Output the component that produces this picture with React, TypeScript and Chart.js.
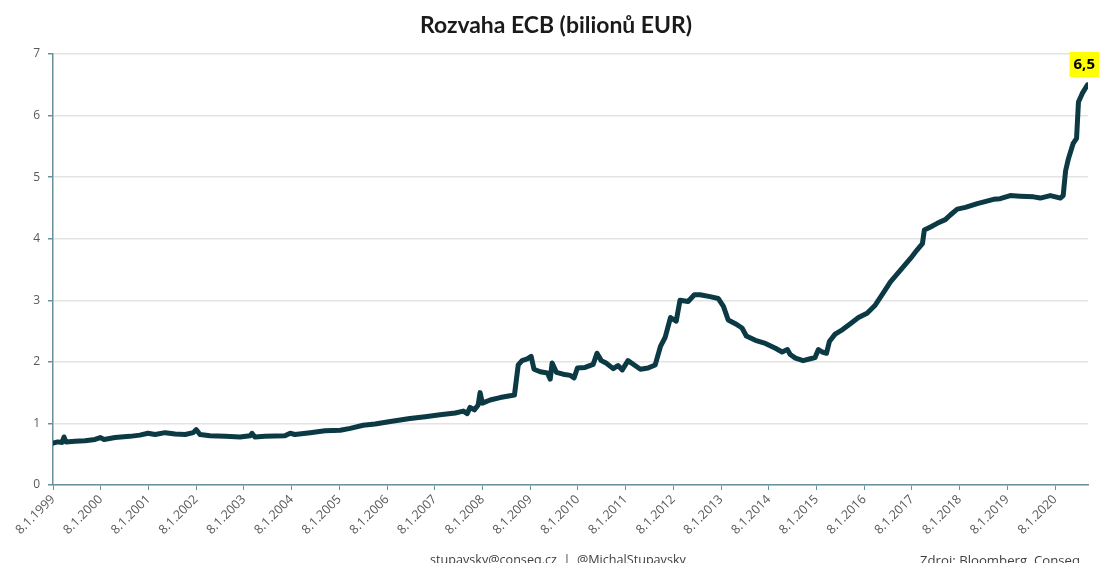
import React, { useEffect, useRef } from 'react';
import { Chart, registerables } from 'chart.js';

Chart.register(...registerables);

const TITLE = 'Rozvaha ECB (bilionů EUR)';
const FOOTER_LEFT = 'stupavsky@conseq.cz  |  @MichalStupavsky';
const FOOTER_RIGHT = 'Zdroj: Bloomberg, Conseq';
const LAST_LABEL = '6,5';

const YEAR_TICKS = [1999, 2000, 2001, 2002, 2003, 2004, 2005, 2006, 2007, 2008, 2009, 2010, 2011, 2012, 2013, 2014, 2015, 2016, 2017, 2018, 2019, 2020];
const Y_TICKS = [0, 1, 2, 3, 4, 5, 6, 7];

const DATES = [
  1999.00, 1999.10, 1999.19, 1999.23, 1999.27, 1999.46, 1999.67, 1999.88, 1999.99, 2000.07,
  2000.30, 2000.61, 2000.82, 2000.99, 2001.14, 2001.35, 2001.56, 2001.77, 2001.94, 2002.00,
  2002.08, 2002.29, 2002.61, 2002.92, 2003.13, 2003.17, 2003.23, 2003.44, 2003.86, 2003.97,
  2004.07, 2004.39, 2004.70, 2005.02, 2005.23, 2005.50, 2005.75, 2006.07, 2006.48, 2006.80,
  2007.11, 2007.43, 2007.60, 2007.68, 2007.74, 2007.83, 2007.91, 2007.95, 2008.00, 2008.16,
  2008.37, 2008.58, 2008.67, 2008.75, 2008.83, 2008.94, 2009.02, 2009.08, 2009.21, 2009.36,
  2009.42, 2009.46, 2009.55, 2009.69, 2009.84, 2009.92, 2009.99, 2010.15, 2010.32, 2010.40,
  2010.49, 2010.59, 2010.74, 2010.84, 2010.93, 2011.05, 2011.16, 2011.31, 2011.47, 2011.62,
  2011.73, 2011.83, 2011.94, 2012.06, 2012.14, 2012.31, 2012.44, 2012.56, 2012.77, 2012.94,
  2013.05, 2013.15, 2013.30, 2013.44, 2013.53, 2013.72, 2013.93, 2014.14, 2014.28, 2014.39,
  2014.45, 2014.56, 2014.72, 2014.87, 2014.97, 2015.04, 2015.12, 2015.21, 2015.27, 2015.39,
  2015.54, 2015.71, 2015.88, 2016.06, 2016.23, 2016.40, 2016.55, 2016.76, 2016.97, 2017.11,
  2017.22, 2017.26, 2017.39, 2017.53, 2017.70, 2017.81, 2017.95, 2018.12, 2018.37, 2018.71,
  2018.85, 2019.06, 2019.27, 2019.55, 2019.69, 2019.90, 2020.01, 2020.11, 2020.17, 2020.22,
  2020.28, 2020.38, 2020.45, 2020.49, 2020.57, 2020.68,
];

const VALUES = [
  0.68, 0.70, 0.69, 0.78, 0.70, 0.71, 0.72, 0.74, 0.77, 0.74,
  0.77, 0.79, 0.81, 0.84, 0.82, 0.85, 0.83, 0.82, 0.85, 0.90,
  0.82, 0.80, 0.79, 0.78, 0.80, 0.84, 0.78, 0.79, 0.80, 0.84,
  0.82, 0.85, 0.88, 0.89, 0.92, 0.97, 0.99, 1.03, 1.08, 1.11,
  1.14, 1.17, 1.20, 1.16, 1.26, 1.22, 1.30, 1.50, 1.33, 1.38,
  1.42, 1.45, 1.46, 1.95, 2.02, 2.05, 2.09, 1.88, 1.84, 1.82,
  1.72, 1.98, 1.83, 1.80, 1.78, 1.74, 1.90, 1.91, 1.96, 2.14,
  2.02, 1.98, 1.89, 1.94, 1.87, 2.02, 1.96, 1.88, 1.90, 1.95,
  2.25, 2.40, 2.72, 2.66, 3.00, 2.98, 3.09, 3.09, 3.06, 3.03,
  2.90, 2.68, 2.62, 2.55, 2.42, 2.35, 2.30, 2.22, 2.16, 2.20,
  2.12, 2.06, 2.02, 2.05, 2.07, 2.20, 2.16, 2.14, 2.33, 2.45,
  2.52, 2.62, 2.72, 2.79, 2.92, 3.12, 3.30, 3.49, 3.68, 3.82,
  3.92, 4.14, 4.19, 4.25, 4.31, 4.39, 4.48, 4.51, 4.57, 4.64,
  4.65, 4.70, 4.69, 4.68, 4.66, 4.70, 4.68, 4.66, 4.70, 5.10,
  5.30, 5.55, 5.63, 6.22, 6.36, 6.50,
];

const LINE_COLOR = '#0b3a44';
const AXIS_COLOR = '#6a909c';
const GRID_COLOR = '#e3e3e3';
const TEXT_COLOR = '#595959';

function fitFont(ctx: CanvasRenderingContext2D, text: string, weight: string, family: string, target: number) {
  ctx.font = `${weight} 20px ${family}`;
  const w = ctx.measureText(text).width;
  const size = (20 * target) / w;
  ctx.font = `${weight} ${size.toFixed(2)}px ${family}`;
}

const decorPlugin = {
  id: 'decor',
  afterDraw(chart: any) {
    const { ctx, chartArea } = chart;
    ctx.save();
    // title
    ctx.fillStyle = '#1a1a1a';
    fitFont(ctx, TITLE, 'bold', 'Lato, "Open Sans", sans-serif', 272);
    ctx.textAlign = 'left';
    ctx.textBaseline = 'alphabetic';
    ctx.fillText(TITLE, 420, 33);

    // footer
    ctx.fillStyle = '#404040';
    ctx.textBaseline = 'alphabetic';
    ctx.textAlign = 'left';
    fitFont(ctx, FOOTER_LEFT, 'normal', '"Open Sans", sans-serif', 256);
    ctx.fillText(FOOTER_LEFT, 430, 564);
    fitFont(ctx, FOOTER_RIGHT, 'normal', '"Open Sans", sans-serif', 160);
    ctx.fillText(FOOTER_RIGHT, 920, 565);

    // last value label
    const meta = chart.getDatasetMeta(0);
    const last = meta.data[meta.data.length - 1];
    if (last) {
      ctx.font = 'bold 15px "Open Sans", sans-serif';
      const w = ctx.measureText(LAST_LABEL).width;
      const bx = last.x - 18;
      const by = chartArea.top - 2;
      ctx.fillStyle = '#ffff00';
      ctx.fillRect(bx, by, w + 8, 25);
      ctx.fillStyle = '#000000';
      ctx.textAlign = 'left';
      ctx.textBaseline = 'middle';
      ctx.fillText(LAST_LABEL, bx + 4, by + 13);
    }
    ctx.restore();
  },
};

export default function App() {
  const canvasRef = useRef<HTMLCanvasElement | null>(null);

  useEffect(() => {
    const canvas = canvasRef.current;
    if (!canvas) return;
    const points = DATES.map((d, i) => ({ x: d, y: VALUES[i] }));
    const chart = new Chart(canvas, {
      type: 'line',
      data: {
        datasets: [
          {
            data: points,
            borderColor: LINE_COLOR,
            borderWidth: 5,
            pointRadius: 0,
            tension: 0,
            borderJoinStyle: 'round',
            borderCapStyle: 'round',
            fill: false,
          },
        ],
      },
      options: {
        animation: false,
        responsive: false,
        maintainAspectRatio: false,
        layout: { padding: { top: 54, right: 11, left: 0, bottom: 0 } },
        plugins: {
          legend: { display: false },
          title: { display: false },
          tooltip: { enabled: false },
        },
        scales: {
          x: {
            type: 'linear',
            min: 1999,
            max: 2020.69,
            afterBuildTicks: (scale: any) => {
              scale.ticks = YEAR_TICKS.map((v) => ({ value: v }));
            },
            afterFit: (scale: any) => {
              scale.height = 78;
            },
            ticks: {
              autoSkip: false,
              maxRotation: 45,
              minRotation: 45,
              color: TEXT_COLOR,
              font: { family: '"Open Sans", sans-serif', size: 12.5 },
              padding: 2,
              callback: (v: any) => `8.1.${v}`,
            },
            grid: {
              drawOnChartArea: false,
              drawTicks: true,
              tickLength: 5,
              tickColor: AXIS_COLOR,
              color: AXIS_COLOR,
            },
            border: { color: AXIS_COLOR, width: 1.5 },
          },
          y: {
            min: 0,
            max: 7,
            afterBuildTicks: (scale: any) => {
              scale.ticks = Y_TICKS.map((v) => ({ value: v }));
            },
            afterFit: (scale: any) => {
              scale.width = 53;
            },
            ticks: {
              color: TEXT_COLOR,
              font: { family: '"Open Sans", sans-serif', size: 12 },
              padding: 8,
            },
            grid: {
              color: GRID_COLOR,
              lineWidth: 1.5,
              drawTicks: true,
              tickLength: 5,
              tickColor: AXIS_COLOR,
            },
            border: { color: AXIS_COLOR, width: 1.5 },
          },
        },
      },
      plugins: [decorPlugin],
    });
    return () => chart.destroy();
  }, []);

  return (
    <div style={{ position: 'fixed', left: 0, top: 0, width: 1099, height: 563, background: '#ffffff' }}>
      <canvas ref={canvasRef} width={1099} height={563} style={{ display: 'block' }} />
    </div>
  );
}
